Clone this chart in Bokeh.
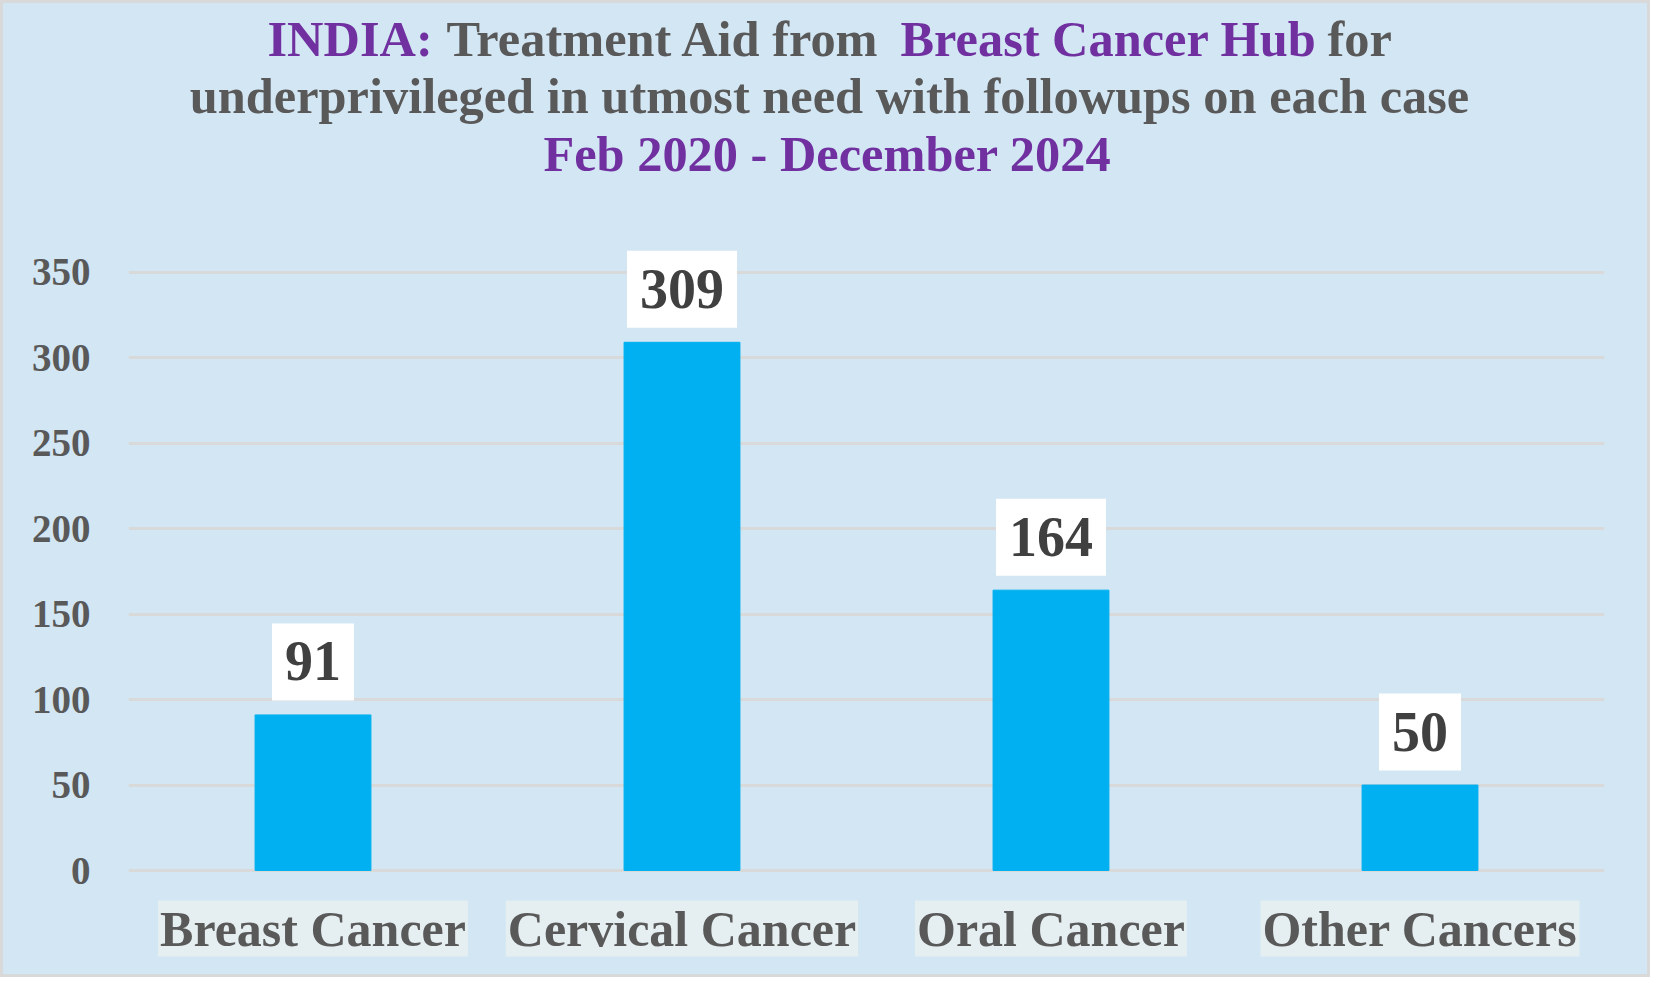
from bokeh.plotting import figure
from bokeh.models import Range1d, FactorRange, FixedTicker, Label
from bokeh.embed import file_html
from bokeh.resources import INLINE

categories = ["Breast Cancer", "Cervical Cancer", "Oral Cancer", "Other Cancers"]
values = [91, 309, 164, 50]
y_ticks = [0, 50, 100, 150, 200, 250, 300, 350]

title_line1 = ["INDIA:", "Treatment Aid from", "Breast Cancer Hub", "for"]
title_line2 = "underprivileged in utmost need with followups on each case"
title_line3 = "Feb 2020 - December 2024"

PURPLE = "#7030A0"
GRAY = "#595959"
DARK = "#404040"
BG = "#D2E6F4"
FONT = "Liberation Serif"

W, H = 1650, 977
p = figure(width=W, height=H, output_backend="svg", toolbar_location=None,
           x_range=FactorRange(*categories, range_padding=0),
           y_range=Range1d(-64.35, 507.2),
           x_axis_location=None,
           min_border_left=125, min_border_right=49, min_border_top=0, min_border_bottom=0,
           styles={"border": "3px solid #D9D9D9", "background-color": BG})
p.background_fill_color = None
p.border_fill_color = None
p.outline_line_color = None

p.vbar(x=categories, top=values, width=0.314, fill_color="#00B0F0", line_color="#00B0F0")

ax = p.yaxis[0]
ax.ticker = FixedTicker(ticks=y_ticks)
ax.axis_line_color = None
ax.major_tick_line_color = None
ax.minor_tick_line_color = None
ax.major_label_text_font = FONT
ax.major_label_text_font_style = "bold"
ax.major_label_text_font_size = "39px"
ax.major_label_text_color = GRAY
ax.major_label_standoff = 32

p.xgrid.grid_line_color = None
p.ygrid.grid_line_color = "#D9D9D9"
p.ygrid.grid_line_width = 3
p.ygrid.ticker = FixedTicker(ticks=y_ticks)

# value labels (x in the categorical scale's synthetic coordinates: factor centre = i + 0.5)
for i, (c, v) in enumerate(zip(categories, values)):
    p.add_layout(Label(x=i + 0.5, y=v, text=str(v), y_offset=53,
                       text_align="center", text_baseline="middle",
                       text_font=FONT, text_font_style="bold", text_font_size="56px",
                       text_color=DARK, background_fill_color="white",
                       padding=dict(left=13, right=13, top=19, bottom=20)))

# category labels
for i, c in enumerate(categories):
    p.add_layout(Label(x=i + 0.5, y=0, text=c, y_offset=-58,
                       text_align="center", text_baseline="middle",
                       text_font=FONT, text_font_style="bold", text_font_size="50px",
                       text_color=GRAY, background_fill_color="#E5EEF1",
                       padding=dict(left=2, right=2, top=0, bottom=0)))

# title
TFS = "50.4px"
line1_x = [139, 318, 772, 1199]
line1_colors = [PURPLE, GRAY, PURPLE, GRAY]
for t, x, col in zip(title_line1, line1_x, line1_colors):
    p.add_layout(Label(x=x, y=942, x_units="screen", y_units="screen", text=t,
                       text_align="left", text_baseline="alphabetic",
                       text_font=FONT, text_font_style="bold", text_font_size=TFS,
                       text_color=col))
p.add_layout(Label(x=701, y=885, x_units="screen", y_units="screen", text=title_line2,
                   text_align="center", text_baseline="alphabetic",
                   text_font=FONT, text_font_style="bold", text_font_size=TFS,
                   text_color=GRAY))
p.add_layout(Label(x=699, y=827, x_units="screen", y_units="screen", text=title_line3,
                   text_align="center", text_baseline="alphabetic",
                   text_font=FONT, text_font_style="bold", text_font_size=TFS,
                   text_color=PURPLE))

open("out.html", "w").write(file_html(p, INLINE))
